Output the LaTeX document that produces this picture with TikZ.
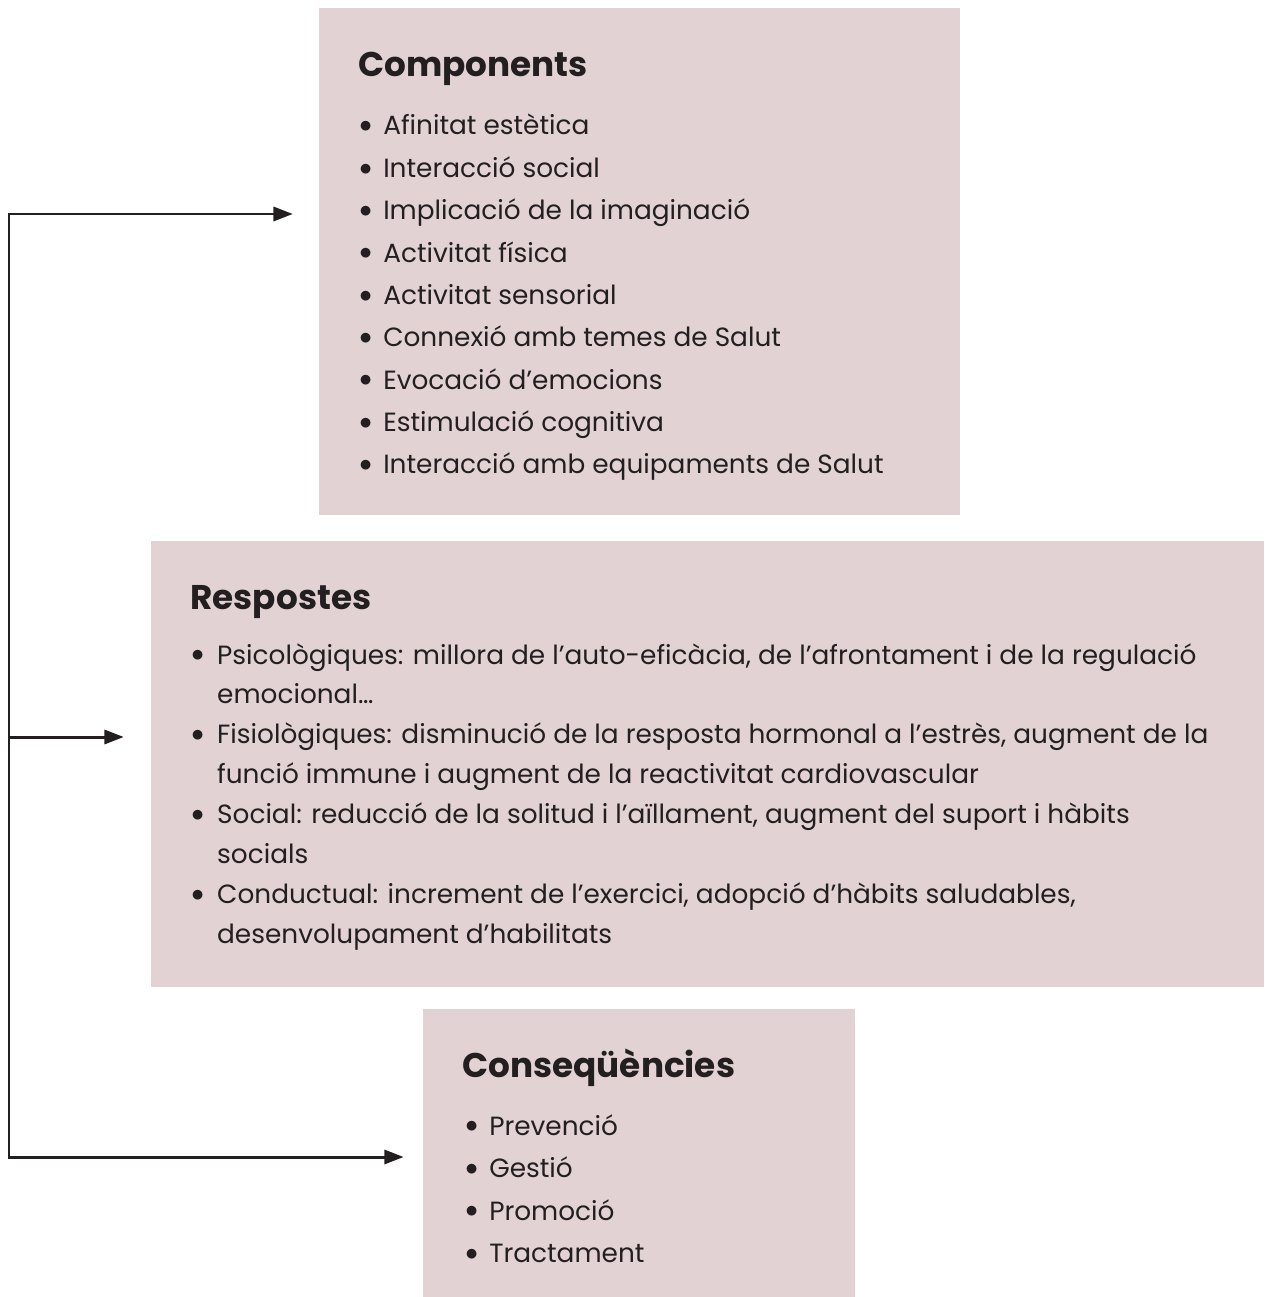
\documentclass[tikz,border=0pt]{standalone}
\usepackage{fontspec}
\setmainfont{Poppins}
\usetikzlibrary{arrows.meta, fit}
\definecolor{ink}{RGB}{35,31,32}
\definecolor{panelpink}{RGB}{226,210,212}
\newcommand{\bul}{\raisebox{1.3pt}{$\bullet$}}

\begin{document}
\begin{tikzpicture}[x=0.02cm, y=-0.02cm,
		panel/.style={fill=panelpink, inner sep=0pt},
		heading/.style={anchor=base west, inner sep=0pt, text=ink, font=\fontsize{19.5}{24}\selectfont\bfseries},
		itemlist/.style={anchor=base west, inner sep=0pt, text=ink},
		rail/.style={draw=ink, line width=1.7pt},
		conn/.style={rail, -{Triangle[length=11pt, width=8pt]}}]
	\useasboundingbox (0, 0) rectangle (1264, 1297);

	% boxes
	\node[panel, fit={(319, 8) (960, 515)}] (compbox) {};
	\node[panel, fit={(151, 541) (1264, 987)}] (respbox) {};
	\node[panel, fit={(423, 1009) (855, 1297)}] (consbox) {};

	% Components
	\node[heading] (comptitle) at (358, 77) {Components};
	\node[itemlist, font=\fontsize{15}{24.1}\selectfont] (complist) at (359, 135) {%
		\begin{tabular}[t]{@{}p{13.6pt}@{}l@{}}
			\bul & Afinitat estètica\\
			\bul & Interacció social\\
			\bul & Implicació de la imaginació\\
			\bul & Activitat física\\
			\bul & Activitat sensorial\\
			\bul & Connexió amb temes de Salut\\
			\bul & Evocació d’emocions\\
			\bul & Estimulació cognitiva\\
			\bul & Interacció amb equipaments de Salut
		\end{tabular}};

	% Respostes
	\node[heading] (resptitle) at (190, 609) {Respostes};
	\node[itemlist, font=\fontsize{15}{22.7}\selectfont] (resplist) at (191, 664) {%
		\begin{tabular}[t]{@{}p{14.7pt}@{}l@{}}
			\bul & Psicològiques: millora de l’auto-eficàcia, de l’afrontament i de la regulació\\
			     & emocional…\\
			\bul & Fisiològiques: disminució de la resposta hormonal a l’estrès, augment de la\\
			     & funció immune i augment de la reactivitat cardiovascular\\
			\bul & Social: reducció de la solitud i l’aïllament, augment del suport i hàbits\\
			     & socials\\
			\bul & Conductual: increment de l’exercici, adopció d’hàbits saludables,\\
			     & desenvolupament d’habilitats
		\end{tabular}};

	% Consequencies
	\node[heading] (constitle) at (462, 1077) {Conseqüències};
	\node[itemlist, font=\fontsize{15}{24.2}\selectfont] (conslist) at (465, 1135) {%
		\begin{tabular}[t]{@{}p{13.6pt}@{}l@{}}
			\bul & Prevenció\\
			\bul & Gestió\\
			\bul & Promoció\\
			\bul & Tractament
		\end{tabular}};

	% rail and arrows
	\coordinate (railtop) at (9, 214);
	\coordinate (railmid) at (9, 737);
	\coordinate (railbot) at (9, 1157);
	\draw[conn, shorten >=14.7pt] (railbot) -- (railtop) -- (compbox.west |- railtop);
	\draw[conn, shorten >=15.3pt] (railmid) -- (respbox.west |- railmid);
	\draw[conn, shorten >=10.8pt] (railtop) -- (railbot) -- (consbox.west |- railbot);
\end{tikzpicture}
\end{document}
